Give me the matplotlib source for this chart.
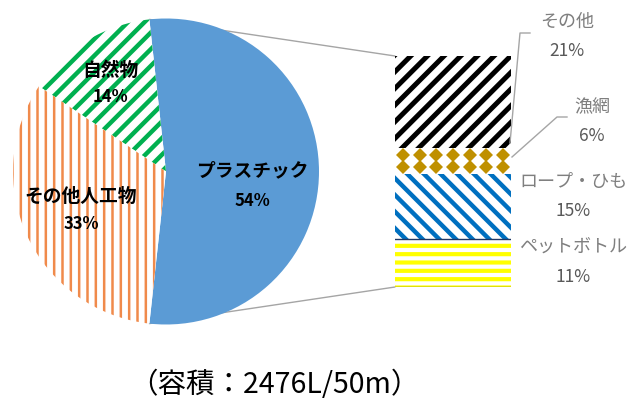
import matplotlib
matplotlib.use('Agg')
import matplotlib.pyplot as plt
import numpy as np
from matplotlib.patches import ConnectionPatch

plt.rcParams['font.family'] = ['Noto Sans CJK JP', 'DejaVu Sans']
plt.rcParams['hatch.linewidth'] = 2.6

# 円グラフ（全体）
pie_labels = ['プラスチック', '自然物', 'その他人工物']
pie_values = [54, 14, 33]
pie_pct = ['54%', '14%', '33%']

# 棒グラフ（プラスチックの内訳、下から）
bar_labels = ['ペットボトル', 'ロープ・ひも', '漁網', 'その他']
bar_values = [11, 15, 6, 21]
bar_pct = ['11%', '15%', '6%', '21%']

caption = '（容積：2476L/50m）'

W, H = 633, 401
fig = plt.figure(figsize=(W / 100, H / 100), dpi=100)

# 円グラフ
ax_pie = fig.add_axes([13 / W, (H - 325) / H, 306 / W, 307 / H])
total = sum(pie_values)
start = -pie_values[0] / total * 360 / 2
wedges, _ = ax_pie.pie(pie_values, startangle=start, counterclock=True,
                       radius=1, wedgeprops=dict(linewidth=0))
ax_pie.set_xlim(-1, 1)
ax_pie.set_ylim(-1, 1)
ax_pie.set_aspect('equal')
ax_pie.axis('off')

wedges[0].set_facecolor('#5B9BD5')
wedges[0].set_edgecolor('#5B9BD5')
wedges[1].set_facecolor('white')
wedges[1].set_edgecolor('#00B050')
wedges[1].set_hatch('//')
wedges[2].set_facecolor('white')
wedges[2].set_edgecolor('#F08A4B')
wedges[2].set_hatch('||')
if hasattr(wedges[2], 'set_hatch_linewidth'):
    wedges[1].set_hatch_linewidth(3.2)
    wedges[2].set_hatch_linewidth(1.8)

# 棒グラフ
ax_bar = fig.add_axes([395 / W, (H - 287) / H, 116 / W, 231 / H])
bar_total = sum(bar_values)
bottoms = np.concatenate([[0], np.cumsum(bar_values)[:-1]])
styles = [
    dict(hatch='--', edgecolor='#FFFF00', hlw=3.0),
    dict(hatch='\\\\', edgecolor='#0070C0', hlw=3.2),
    dict(hatch='', edgecolor='white', hlw=1.0),
    dict(hatch='//', edgecolor='black', hlw=3.6),
]
for v, b, st in zip(bar_values, bottoms, styles):
    r = ax_bar.bar(0, v, bottom=b, width=1, align='edge', color='white',
                   edgecolor=st['edgecolor'], hatch=st['hatch'], linewidth=0)[0]
    if hasattr(r, 'set_hatch_linewidth'):
        r.set_hatch_linewidth(st['hlw'])

# 漁網のひし形模様
gb, gv = bottoms[2], bar_values[2]
gx = (np.arange(7) + 0.5) / 7
for fy in (0.27, 0.73):
    ax_bar.plot(gx, np.full(7, gb + gv * fy), 'D', color='#BF9000',
                markersize=7, markeredgewidth=0)
ax_bar.plot([0, 1], [bottoms[1], bottoms[1]], color='#1F3864', lw=1)
ax_bar.plot([0, 1], [0, 0], color='#595959', lw=1)
ax_bar.set_xlim(0, 1)
ax_bar.set_ylim(0, bar_total)
ax_bar.axis('off')

# 接続線
t_top = np.deg2rad(start + pie_values[0] / total * 360)
t_bot = np.deg2rad(start)
for t, yb in ((t_top, bar_total), (t_bot, 0)):
    con = ConnectionPatch(xyA=(np.cos(t), np.sin(t)), coordsA=ax_pie.transData,
                          xyB=(0, yb), coordsB=ax_bar.transData,
                          color='#A5A5A5', lw=1, zorder=-1)
    fig.add_artist(con)

# ラベル用オーバーレイ
ov = fig.add_axes([0, 0, 1, 1], zorder=5)
ov.set_xlim(0, W)
ov.set_ylim(H, 0)
ov.axis('off')

pie_pos = [(252, 171, 201), (110, 70, 97), (81, 196, 224)]
for lab, pct, (x, y1, y2) in zip(pie_labels, pie_pct, pie_pos):
    ov.text(x, y1, lab, ha='center', va='center', fontsize=13.5,
            fontweight='bold', color='black')
    ov.text(x, y2, pct, ha='center', va='center', fontsize=12,
            fontweight='bold', color='black')

bar_pos = [(573, 247, 277), (573, 182, 211), (592, 107, 136), (567, 22, 51)]
for lab, pct, (x, y1, y2) in zip(bar_labels, bar_pct, bar_pos):
    ov.text(x, y1, lab, ha='center', va='center', fontsize=13,
            color='#7F7F7F')
    ov.text(x, y2, pct, ha='center', va='center', fontsize=12.5,
            color='#595959')

# 引出線
ov.plot([510, 520, 530], [143, 33, 33], color='#A5A5A5', lw=1)
ov.plot([512, 557, 567], [157, 117, 117], color='#A5A5A5', lw=1)

ov.text(274, 385, caption, ha='center', va='center', fontsize=20.5,
        color='black')

fig.savefig('out.png', dpi=100, facecolor='white')
